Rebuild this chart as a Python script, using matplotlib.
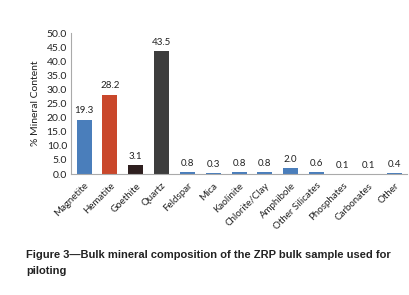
import matplotlib
matplotlib.use("Agg")
import matplotlib.pyplot as plt
from matplotlib import font_manager

categories = ["Magnetite", "Hematite", "Goethite", "Quartz", "Feldspar", "Mica",
              "Kaolinite", "Chlorite/Clay", "Amphibole", "Other Silicates",
              "Phosphates", "Carbonates", "Other"]
values = [19.3, 28.2, 3.1, 43.5, 0.8, 0.3, 0.8, 0.8, 2.0, 0.6, 0.1, 0.1, 0.4]
colors = ["#4a7ebb", "#c9472b", "#2e1f1f", "#3d3d3d"] + ["#4a7ebb"] * 9
yticks = [0, 5, 10, 15, 20, 25, 30, 35, 40, 45, 50]

names = {f.name for f in font_manager.fontManager.ttflist}
cap_font = "Liberation Sans Narrow" if "Liberation Sans Narrow" in names else "Liberation Sans"
plt.rcParams["font.family"] = ["Lato", "DejaVu Sans"]

fig = plt.figure(figsize=(4.09, 2.95), dpi=100)
ax = fig.add_axes([0.174, 0.410, 0.821, 0.478])
x = list(range(len(categories)))
ax.bar(x, values, width=0.58, color=colors)
for xi, v in zip(x, values):
    ax.text(xi, v + 1.5, f"{v:.1f}", ha="center", va="bottom", fontsize=7, color="#222222")
ax.set_xlim(-0.5, len(categories) - 0.5)
ax.set_ylim(0, 50)
ax.set_yticks(yticks)
ax.set_yticklabels([f"{t:.1f}" for t in yticks], fontsize=7.5)
ax.set_xticks(x)
ax.set_xticklabels(categories, rotation=45, ha="right", rotation_mode="anchor", fontsize=7)
ax.tick_params(length=0, pad=3, colors="#222222")
ax.tick_params(axis="x", pad=5)
for s in ["top", "right"]:
    ax.spines[s].set_visible(False)
for s in ["left", "bottom"]:
    ax.spines[s].set_color("#aaaaaa")
    ax.spines[s].set_linewidth(0.8)
ax.set_ylabel("% Mineral Content", fontsize=7.5, labelpad=5, color="#222222")

fig.text(0.064, 0.153, "Figure 3\u2014Bulk mineral composition of the ZRP bulk sample used for\npiloting",
         fontsize=8, fontweight="bold", family=cap_font, ha="left", va="top",
         linespacing=1.8, color="#222222")
fig.savefig("out.png", dpi=100)
